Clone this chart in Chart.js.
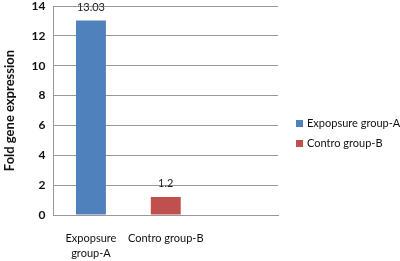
<!DOCTYPE html>
<html>
<head>
<meta charset="utf-8">
<script src="https://cdn.jsdelivr.net/npm/chart.js@4"></script>
<style>
  body { margin: 0; background: #fff; }
  #wrap { position: relative; width: 400px; height: 261px; }
  #legend { position: absolute; left: 296px; top: 114px; font: 11px Lato, 'Open Sans', sans-serif; color: #111; }
  #legend div { height: 20px; line-height: 18px; white-space: nowrap; }
  #legend span { display: inline-block; width: 7px; height: 7px; margin-right: 4px; }
</style>
</head>
<body>
<div id="wrap"><canvas id="myChart"></canvas><div id="legend"></div></div>
<script>
const categories = [["Expopsure", "group-A"], "Contro group-B", ""];
const seriesNames = ["Expopsure group-A", "Contro group-B"];
const seriesColors = ['#4F81BD', '#C0504D'];
const groupA = [13.03, null, null];
const groupB = [null, 1.2, null];
const yTicks = [0, 2, 4, 6, 8, 10, 12, 14];

const fontFam = "Lato, 'Open Sans', sans-serif";

// value labels on top of the bars
const barValues = {
  id: 'barValues',
  afterDatasetsDraw(chart) {
    const { ctx } = chart;
    ctx.save();
    ctx.font = "11px " + fontFam;
    ctx.fillStyle = '#222';
    ctx.textAlign = 'center';
    ctx.textBaseline = 'bottom';
    chart.data.datasets.forEach((ds, i) => {
      chart.getDatasetMeta(i).data.forEach((bar, j) => {
        const v = ds.data[j];
        if (v == null) return;
        ctx.fillText(String(v), bar.x, bar.y - 8);
      });
    });
    ctx.restore();
  }
};

const ctx = document.getElementById("myChart");

const myChart = new Chart(ctx, {
  type: "bar",
  plugins: [barValues],
  data: {
    labels: categories,
    datasets: [
      {
        label: seriesNames[0],
        data: groupA,
        backgroundColor: seriesColors[0],
        skipNull: true,
        categoryPercentage: 0.5,
        barPercentage: 0.8,
      },
      {
        label: seriesNames[1],
        data: groupB,
        backgroundColor: seriesColors[1],
        skipNull: true,
        categoryPercentage: 0.5,
        barPercentage: 0.8,
      },
    ],
  },
  options: {
    responsive: true,
    maintainAspectRatio: false,
    animation: false,
    layout: {
      padding: { top: 0, right: 122, left: 2, bottom: 0 }
    },
    plugins: {
      tooltip: { enabled: false },
      legend: { display: false },
    },
    scales: {
      x: {
        grid: { display: false, drawTicks: false },
        border: { color: '#999' },
        afterFit(scale) { scale.height = 46; },
        ticks: {
          color: '#111',
          padding: 16,
          maxRotation: 0,
          autoSkip: false,
          font: { size: 11, family: fontFam, lineHeight: 1.35 },
        },
      },
      y: {
        min: 0,
        max: 14,
        afterBuildTicks(axis) {
          axis.ticks = yTicks.map(v => ({ value: v }));
        },
        afterFit(scale) { scale.paddingTop = 6; },
        grid: { color: '#999', drawTicks: false },
        border: { color: '#999' },
        ticks: {
          color: '#111',
          padding: 8,
          font: { size: 12, weight: 'bold', family: fontFam },
        },
        title: {
          display: true,
          text: 'Fold gene expression',
          color: '#111',
          padding: { top: 0, bottom: 6 },
          font: { size: 13, weight: 'bold', family: fontFam },
        },
      },
    },
  },
});

// legend built from the datasets
const legendEl = document.getElementById('legend');
myChart.data.datasets.forEach((ds) => {
  const row = document.createElement('div');
  const box = document.createElement('span');
  box.style.background = ds.backgroundColor;
  row.appendChild(box);
  row.appendChild(document.createTextNode(ds.label));
  legendEl.appendChild(row);
});
</script>
</body>
</html>
